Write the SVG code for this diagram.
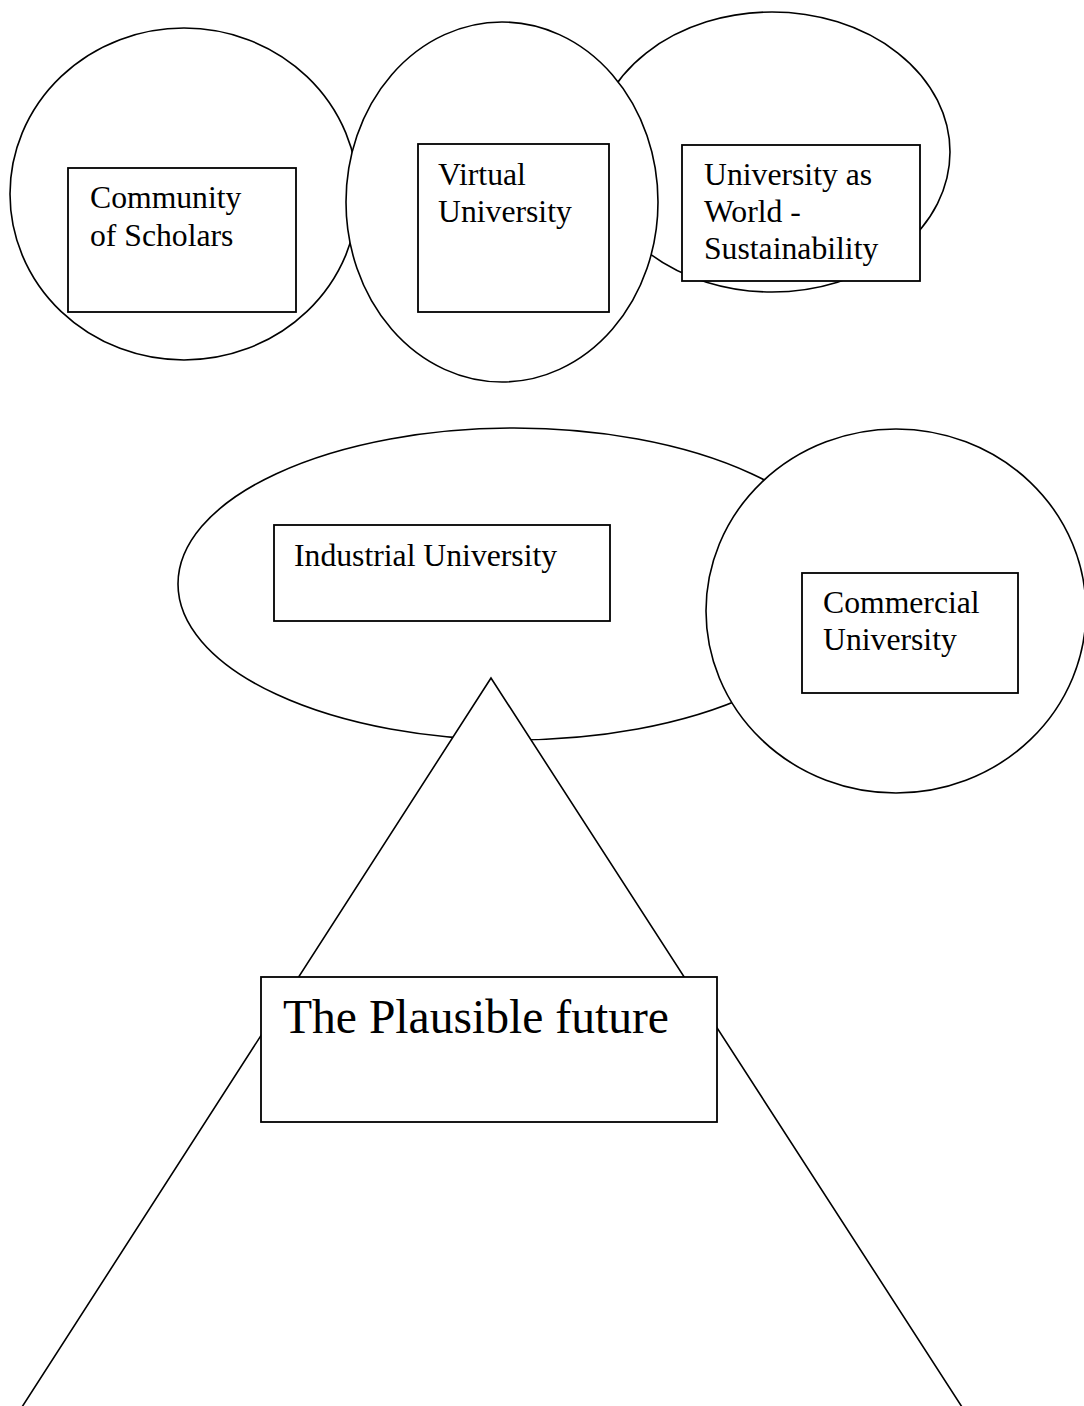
<svg xmlns="http://www.w3.org/2000/svg" width="1084" height="1406" viewBox="0 0 1084 1406">
<style>
.s{fill:#fff;stroke:#000;stroke-width:1.6}
.b{fill:#fff;stroke:#000;stroke-width:1.8}
.t{font-family:"Liberation Serif","Times New Roman",serif;font-size:31.7px;fill:#000}
.big{font-family:"Liberation Serif","Times New Roman",serif;font-size:47.6px;fill:#000}
</style>
<rect width="1084" height="1406" fill="#fff"/>
<g id="connectors"></g>
<g id="community">
<ellipse class="s" cx="184" cy="194" rx="174" ry="166"/>
</g>
<g id="world">
<ellipse class="s" cx="772" cy="152" rx="178" ry="140"/>
</g>
<g id="virtual">
<ellipse class="s" cx="502" cy="202" rx="156" ry="180"/>
</g>
<g id="community-box">
<rect class="b" x="68" y="168" width="228" height="144"/>
<text class="t" x="90" y="208">Community</text>
<text class="t" x="90" y="246">of Scholars</text>
</g>
<g id="virtual-box">
<rect class="b" x="418" y="144" width="191" height="168"/>
<text class="t" x="438" y="185">Virtual</text>
<text class="t" x="438" y="222">University</text>
</g>
<g id="world-box">
<rect class="b" x="682" y="145" width="238" height="136"/>
<text class="t" x="704" y="185">University as</text>
<text class="t" x="704" y="222">World -</text>
<text class="t" x="704" y="259">Sustainability</text>
</g>
<g id="industrial">
<ellipse class="s" cx="514" cy="584" rx="336" ry="156"/>
<rect class="b" x="274" y="525" width="336" height="96"/>
<text class="t" x="294" y="566">Industrial University</text>
</g>
<g id="commercial">
<ellipse class="s" cx="896" cy="611" rx="190" ry="182"/>
<rect class="b" x="802" y="573" width="216" height="120"/>
<text class="t" x="823" y="613">Commercial</text>
<text class="t" x="823" y="650">University</text>
</g>
<g id="triangle">
<polygon class="s" points="491,678 22,1407 962,1407"/>
</g>
<g id="plausible">
<rect class="b" x="261" y="977" width="456" height="145"/>
<text class="big" x="283" y="1033">The Plausible future</text>
</g>
</svg>
